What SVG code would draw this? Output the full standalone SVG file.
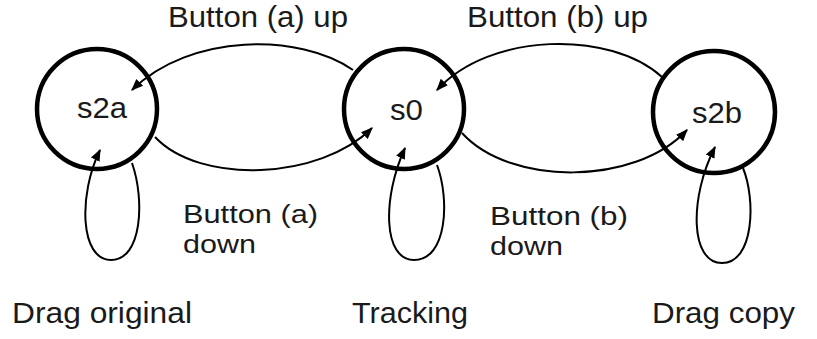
<svg xmlns="http://www.w3.org/2000/svg" width="817" height="339" viewBox="0 0 817 339">
<style>
.state{fill:none;stroke:#000;stroke-width:4.5}
.edge{fill:none;stroke:#000;stroke-width:2}
text{font-family:"Liberation Sans",Arial,sans-serif;font-size:29px;fill:#1a1a1a}
.two{font-size:26px}
</style>
<defs>
<marker id="ah" viewBox="0 0 10 10" refX="9" refY="5" markerWidth="6" markerHeight="6" orient="auto" markerUnits="strokeWidth">
<path d="M0,1 L10,5 L0,9 z" fill="#000"/>
</marker>
</defs>
<rect width="817" height="339" fill="#fff"/>
<g id="connectors">
<path class="edge" d="M353,70 C300,33 190,33 132,90" marker-end="url(#ah)"/>
<path class="edge" d="M155,137 C200,185 320,180 372,128" marker-end="url(#ah)"/>
<path class="edge" d="M662,77 C610,30 490,32 437,90" marker-end="url(#ah)"/>
<path class="edge" d="M462,133 C510,186 635,186 687,130" marker-end="url(#ah)"/>
<path class="edge" d="M132,163 C145,200 142,260 111,260 C80,260 78,195 100,150" marker-end="url(#ah)"/>
<path class="edge" d="M437,165 C450,200 447,260 414,260 C383,260 382,198 405,148" marker-end="url(#ah)"/>
<path class="edge" d="M743,168 C756,200 754,263 722,263 C690,263 689,198 715,147" marker-end="url(#ah)"/>
</g>
<g id="label-a-up"><text x="168" y="27" textLength="180" lengthAdjust="spacingAndGlyphs">Button (a) up</text></g>
<g id="label-b-up"><text x="467" y="27" textLength="181" lengthAdjust="spacingAndGlyphs">Button (b) up</text></g>
<g id="label-a-down"><text class="two" x="183" y="223" textLength="135" lengthAdjust="spacingAndGlyphs">Button (a)</text><text class="two" x="183" y="253" textLength="73" lengthAdjust="spacingAndGlyphs">down</text></g>
<g id="label-b-down"><text class="two" x="490" y="225" textLength="138" lengthAdjust="spacingAndGlyphs">Button (b)</text><text class="two" x="490" y="255" textLength="73" lengthAdjust="spacingAndGlyphs">down</text></g>
<g id="s2a"><circle class="state" cx="97" cy="109" r="60"/><text x="77" y="118" textLength="50" lengthAdjust="spacingAndGlyphs">s2a</text></g>
<g id="s0"><circle class="state" cx="404" cy="109" r="60"/><text x="390" y="120" textLength="33" lengthAdjust="spacingAndGlyphs">s0</text></g>
<g id="s2b"><circle class="state" cx="714" cy="112" r="61"/><text x="692" y="123" textLength="50" lengthAdjust="spacingAndGlyphs">s2b</text></g>
<g id="caption-drag-original"><text x="12" y="323" textLength="180" lengthAdjust="spacingAndGlyphs">Drag original</text></g>
<g id="caption-tracking"><text x="352" y="323" textLength="116" lengthAdjust="spacingAndGlyphs">Tracking</text></g>
<g id="caption-drag-copy"><text x="652" y="323" textLength="143" lengthAdjust="spacingAndGlyphs">Drag copy</text></g>
</svg>
